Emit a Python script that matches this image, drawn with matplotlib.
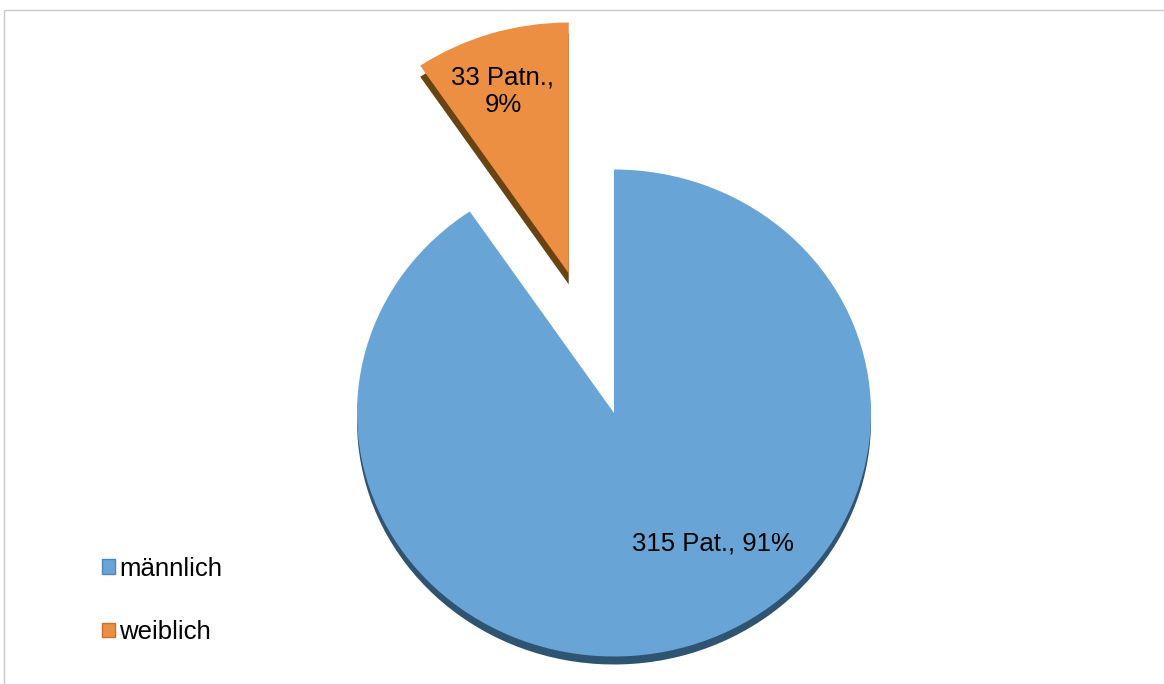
import numpy as np
import matplotlib.pyplot as plt
from matplotlib.patches import Patch, Rectangle

# data
categories = ["männlich", "weiblich"]
patients = [315, 33]
slice_labels = ["315 Pat., 91%", "33 Patn.,\n9%"]

colors = ["#68A5D6", "#EC8F43"]
side_colors = ["#2F5472", "#6A4312"]
edge_colors = ["#4F86B8", "#C8702C"]

plt.rcParams['font.family'] = ['Liberation Sans', 'DejaVu Sans']

fig = plt.figure(figsize=(11.64, 6.84), dpi=100)
ax = fig.add_axes([0, 0, 1, 1])

explode = [0, 0.6]
depths = [8 / 243.5, 11 / 243.5]
radii = [1.0, 1.03]

# side (3D depth) of the pie, shifted down
side, _ = ax.pie(patients, explode=explode, colors=side_colors, startangle=90,
                 counterclock=False, wedgeprops=dict(linewidth=0))
# top surface
wedges, _ = ax.pie(patients, explode=explode, colors=colors, startangle=90,
                   counterclock=False, wedgeprops=dict(linewidth=0))
for s, w, d, r in zip(side, wedges, depths, radii):
    s.set_radius(r)
    w.set_radius(r)
    cx, cy = s.center
    s.set_center((cx, cy - d))

# pixel mapping: centre at (614, 413), rx 257 px, ry 243.5 px
ax.set_aspect('auto')
ax.set_xlim(-614 / 257, (1164 - 614) / 257)
ax.set_ylim(-(684 - 413) / 243.5, 413 / 243.5)
ax.axis('off')

# slice labels
ax.text(0.385, -0.534, slice_labels[0], fontsize=18.5, ha='center', va='center')
ax.text(-0.432, 1.322, slice_labels[1], fontsize=18.5, ha='center', va='center',
        linespacing=1.15)

# legend
handles = [Patch(facecolor=c, edgecolor=e, linewidth=1)
           for c, e in zip(colors, edge_colors)]
fig.legend(handles, categories, loc='upper left',
           bbox_to_anchor=(89 / 1164, 1 - 544 / 684), frameon=False,
           fontsize=18.5, handlelength=0.5, handleheight=0.5,
           handletextpad=0.18, labelspacing=1.53, borderpad=0)

# outer chart border (top and left visible)
fig.patches.append(Rectangle((4 / 1164, -0.1), 1.2, 1.1 - 10 / 684,
                             transform=fig.transFigure, fill=False,
                             edgecolor="#C8C8C8", linewidth=1))

fig.savefig("out.png", dpi=100)
